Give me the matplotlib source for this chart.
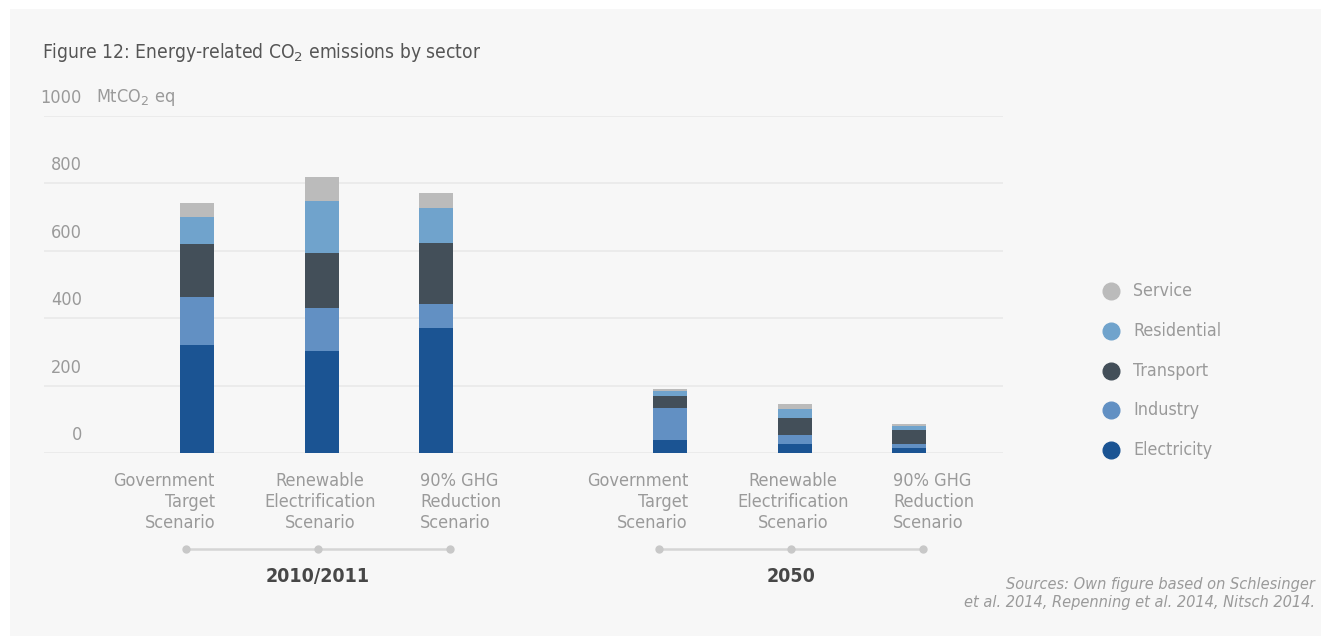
#!/usr/bin/env python3
'''Figure 12: energy-related CO2 emissions by sector (stacked bars)'''

import numpy as np
import matplotlib
matplotlib.use('Agg')

import matplotlib.pyplot as plt
import matplotlib.transforms as mtransforms
from matplotlib import font_manager
from matplotlib.lines import Line2D
from matplotlib.patches import Rectangle

# data (MtCO2 eq)
groups = ["2010/2011", "2050"]
scenarios = ["Government\nTarget\nScenario",
             "Renewable\nElectrification\nScenario",
             "90% GHG\nReduction\nScenario"]
sectors = ["Electricity", "Industry", "Transport", "Residential", "Service"]
electricity = [321, 304, 372, 40, 28, 15]
industry = [143, 127, 71, 95, 26, 13]
transport = [157, 163, 181, 35, 51, 39]
residential = [80, 155, 104, 15, 26, 14]
service = [42, 71, 44, 6, 15, 6]
yticks = [0, 200, 400, 600, 800, 1000]

colors = ["#1b5493", "#6290c3", "#434f59", "#70a3cc", "#bbbbbb"]

names = {f.name for f in font_manager.fontManager.ttflist}
if "Liberation Sans Narrow" in names:
    plt.rcParams['font.family'] = ['Liberation Sans Narrow', 'DejaVu Sans']
    STRETCH = 'normal'
else:
    plt.rcParams['font.family'] = ['DejaVu Sans']
    STRETCH = 'condensed'


def main():
    W, H = 1321, 636
    fig = plt.figure(figsize=(W / 100, H / 100), dpi=100, facecolor="white")
    fig.patches.append(Rectangle((10 / W, 0), 1, 1 - 9 / H, transform=fig.transFigure,
                                 facecolor="#f7f7f7", edgecolor="none", zorder=-10))

    def fy(py):
        return 1 - py / H

    ax = fig.add_axes([44 / W, fy(453), (1003 - 44) / W, (453 - 116) / H])
    ax.set_facecolor("none")
    ax.set_xlim(44, 1003)
    ax.set_ylim(0, 1000)
    for s in ax.spines.values():
        s.set_visible(False)
    ax.set_xticks([])
    ax.set_yticks([])

    for v in yticks:
        ax.axhline(v, color="#e8e8e8", lw=1.1, zorder=0)
        ax.text(82, v + 18 / 0.337, str(v), ha="right", va="center", fontsize=13,
                color="#9a9a9a", fontstretch=STRETCH)
    ax.text(96, 1000 + 18 / 0.337, "MtCO$_2$ eq", ha="left", va="center", fontsize=13,
            color="#9a9a9a", fontstretch=STRETCH)

    # bar layout: groups and slots
    group_left = [197, 670]
    offsets = [0, 125, 239]
    xs = np.array([g + o for g in group_left for o in offsets], dtype=float)
    width = 34

    series = [electricity, industry, transport, residential, service]
    bottom = np.zeros(len(xs))
    for vals, c in zip(series, colors):
        ax.bar(xs, vals, width, bottom=bottom, color=c, zorder=3)
        bottom += np.array(vals)

    trans = mtransforms.blended_transform_factory(ax.transData, fig.transFigure)
    for gi, g in enumerate(groups):
        bx = xs[gi * 3: gi * 3 + 3]
        # scenario labels
        ax.text(bx[0] + width / 2 + 1, fy(472), scenarios[0], transform=trans, ha="right",
                va="top", multialignment="right", fontsize=13, color="#9a9a9a",
                linespacing=1.2, fontstretch=STRETCH, clip_on=False)
        ax.text(bx[1] - 2, fy(472), scenarios[1], transform=trans, ha="center",
                va="top", multialignment="center", fontsize=13, color="#9a9a9a",
                linespacing=1.2, fontstretch=STRETCH, clip_on=False)
        ax.text(bx[2] - width / 2 + 1, fy(472), scenarios[2], transform=trans, ha="left",
                va="top", multialignment="left", fontsize=13, color="#9a9a9a",
                linespacing=1.2, fontstretch=STRETCH, clip_on=False)
        # connector line with dots
        mid = bx[1] - 4
        dots = [mid - 132, mid, mid + 132]
        ax.add_line(Line2D(dots, [fy(549)] * 3, transform=trans, color="#d5d5d5",
                           lw=1.8, marker="o", markersize=6, markerfacecolor="#c8c8c8",
                           markeredgecolor="none", clip_on=False))
        ax.text(mid, fy(577), g, transform=trans, ha="center", va="center",
                fontsize=14, fontweight="bold", color="#474747",
                fontstretch=STRETCH, clip_on=False)

    # legend
    for i, (name, c) in enumerate(reversed(list(zip(sectors, colors)))):
        y = fy(291 + i * 39.8)
        fig.add_artist(Line2D([1111 / W], [y], transform=fig.transFigure, marker="o",
                              markersize=12, color=c, linestyle="none"))
        fig.text(1133 / W, y, name, ha="left", va="center", fontsize=12.8,
                 color="#9a9a9a", fontstretch=STRETCH)

    fig.text(42 / W, fy(52), "Figure 12: Energy-related CO$_2$ emissions by sector",
             ha="left", va="center", fontsize=13.8, color="#555555", fontstretch=STRETCH)
    fig.text(1315 / W, fy(594),
             "Sources: Own figure based on Schlesinger\net al. 2014, Repenning et al. 2014, Nitsch 2014.",
             ha="right", va="center", multialignment="right", fontsize=11.7, style="italic",
             color="#9a9a9a", linespacing=1.25, fontstretch=STRETCH)

    plt.savefig("out.png", dpi=100, facecolor=fig.get_facecolor())


if __name__ == "__main__":
    main()
